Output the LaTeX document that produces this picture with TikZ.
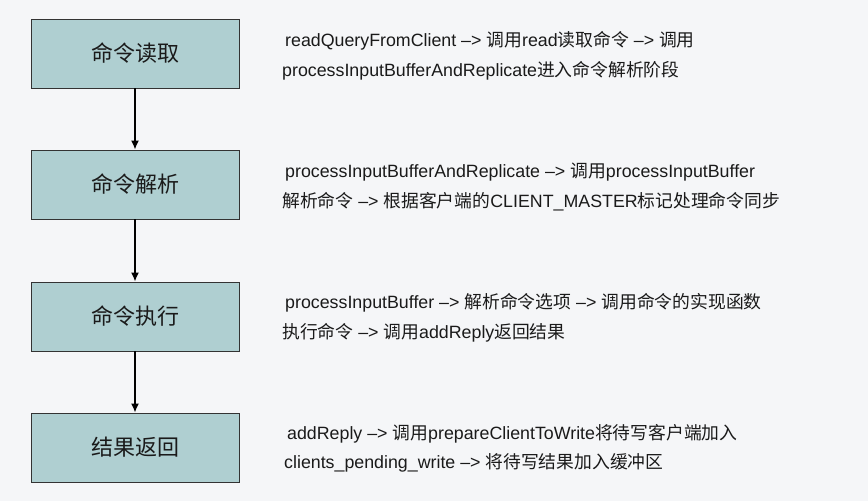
\documentclass[tikz,border=0pt]{standalone}
\usepackage{fontspec}
\setmainfont{Liberation Sans}
\newfontfamily\zhfont{Noto Sans CJK SC}
\newcommand{\zh}[1]{{\zhfont #1}}
\newcommand{\arr}{ –> }
\usetikzlibrary{arrows.meta}
\definecolor{bgc}{HTML}{F5F6F8}
\definecolor{boxfill}{HTML}{AFCFD1}
\definecolor{boxline}{HTML}{333333}
\definecolor{txt}{HTML}{1A1A1A}
\tikzset{
  stagebox/.style={draw=boxline, line width=0.9pt, fill=boxfill, minimum width=208pt, minimum height=69pt, inner sep=0pt, font=\zhfont\fontsize{22}{26}\selectfont, text=txt},
  desc/.style={anchor=west, inner sep=0pt, align=left, font=\fontsize{17.8}{29.5}\selectfont, text=txt},
  flow/.style={line width=1.5pt, -{Latex[length=9pt,width=8pt]}, black}
}
\begin{document}
\begin{tikzpicture}[x=1pt,y=-1pt]
\fill[bgc] (0,0) rectangle (868,501);
\useasboundingbox (0,0) rectangle (868,501);
\node[stagebox] (s1) at (135,53.5) {命令读取};
\node[stagebox] (s2) at (135,184.5) {命令解析};
\node[stagebox] (s3) at (135,316.5) {命令执行};
\node[stagebox] (s4) at (135,447.5) {结果返回};
\draw[flow] (s1) -- (s2);
\draw[flow] (s2) -- (s3);
\draw[flow] (s3) -- (s4);
\node[desc] (d1) at (282,56) {\hspace{3pt}readQueryFromClient\arr\zh{调用}read\zh{读取命令}\arr\zh{调用}\\processInputBufferAndReplicate\zh{进入命令解析阶段}};
\node[desc] (d2) at (282,187) {\hspace{3pt}processInputBufferAndReplicate\arr\zh{调用}processInputBuffer\\\zh{解析命令}\arr\zh{根据客户端的}CLIENT\_MASTER\zh{标记处理命令同步}};
\node[desc] (d3) at (282,318) {\hspace{3pt}processInputBuffer\arr\zh{解析命令选项}\arr\zh{调用命令的实现函数}\\\zh{执行命令}\arr\zh{调用}addReply\zh{返回结果}};
\node[desc] (d4) at (284,448.5) {\hspace{3pt}addReply\arr\zh{调用}prepareClientToWrite\zh{将待写客户端加入}\\clients\_pending\_write\arr\zh{将待写结果加入缓冲区}};
\end{tikzpicture}
\end{document}
